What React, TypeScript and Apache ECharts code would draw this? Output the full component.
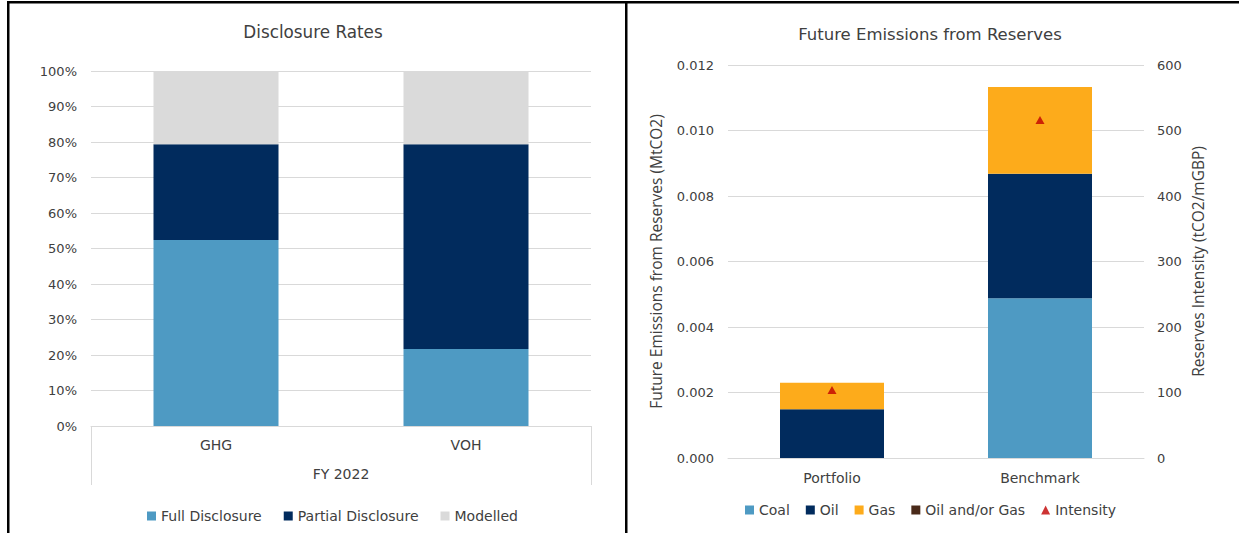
import React, { useEffect, useRef } from 'react';
import * as echarts from 'echarts';

// Left chart: Disclosure Rates
const disclosureCategories = ['GHG', 'VOH'];
const disclosureGroup = ['FY 2022'];
const fullDisclosure = [0.524, 0.217];
const partialDisclosure = [0.27, 0.577];
const modelled = [0.206, 0.206];

// Right chart: Future Emissions from Reserves
const reserveCategories = ['Portfolio', 'Benchmark'];
const coal = [0, 0.00488];
const oil = [0.00149, 0.0038];
const gas = [0.00081, 0.00265];
const oilOrGas = [0, 0];
const intensity = [104, 516];

const FONT = 'DejaVu Sans';
const NAME_FONT = 'Open Sans';
const TXT = '#404040';
const GRID = '#D9D9D9';

const C_BLUE = '#4E9AC3';
const C_NAVY = '#012B5D';
const C_GREY = '#DADADA';
const C_GAS = '#FDAB1B';
const C_BROWN = '#4A2A1A';
const C_RED = '#C00000';

export default function App() {
  const ref = useRef<HTMLDivElement>(null);
  useEffect(() => {
    if (!ref.current) return;
    const chart = echarts.init(ref.current, undefined, { renderer: 'svg' });
    const lbl = { color: TXT, fontSize: 13, fontFamily: FONT };
    const cat = { color: TXT, fontSize: 14, fontFamily: FONT };
    chart.setOption({
      animation: false,
      backgroundColor: '#fff',
      textStyle: { fontFamily: FONT, color: TXT },
      graphic: [
        { type: 'rect', shape: { x: 7, y: 1, width: 1232, height: 2.5 }, style: { fill: '#000' } },
        { type: 'rect', shape: { x: 7, y: 1, width: 2.5, height: 532 }, style: { fill: '#000' } },
        { type: 'rect', shape: { x: 625, y: 1, width: 2.5, height: 532 }, style: { fill: '#000' } },
        { type: 'text', x: 313, y: 32, style: { text: 'Disclosure Rates', fill: TXT, font: `16.8px "${FONT}"`, textAlign: 'center', textVerticalAlign: 'middle' } },
        { type: 'text', x: 930, y: 34, style: { text: 'Future Emissions from Reserves', fill: TXT, font: `16.5px "${FONT}"`, textAlign: 'center', textVerticalAlign: 'middle' } },
      ],
      grid: [
        { left: 91, right: 648, top: 71, bottom: 107 },
        { left: 728, right: 95, top: 65, bottom: 75 },
      ],
      legend: [
        {
          data: ['Full Disclosure', 'Partial Disclosure', 'Modelled'],
          left: 147, top: 509, padding: 0, icon: 'rect', itemWidth: 9, itemHeight: 9, itemGap: 22,
          textStyle: { ...cat },
        },
        {
          data: ['Coal', 'Oil', 'Gas', 'Oil and/or Gas', { name: 'Intensity', icon: 'triangle' }],
          left: 745, top: 503, padding: 0, icon: 'rect', itemWidth: 9, itemHeight: 9, itemGap: 16,
          textStyle: { ...cat },
        },
      ],
      xAxis: [
        {
          gridIndex: 0, type: 'category', data: disclosureCategories,
          axisLine: { lineStyle: { color: GRID } }, axisTick: { show: false },
          axisLabel: { ...cat, margin: 12 },
        },
        {
          gridIndex: 0, type: 'category', data: disclosureGroup, position: 'bottom',
          axisLine: { show: false },
          axisTick: { show: true, length: 59, lineStyle: { color: GRID } },
          axisLabel: { ...cat, margin: 41 },
        },
        {
          gridIndex: 1, type: 'category', data: reserveCategories,
          axisLine: { lineStyle: { color: GRID } }, axisTick: { show: false },
          axisLabel: { ...cat, margin: 13 },
        },
      ],
      yAxis: [
        {
          gridIndex: 0, type: 'value', min: 0, max: 1, interval: 0.1,
          axisLabel: { ...lbl, margin: 14, formatter: (v: number) => Math.round(v * 100) + '%' },
          splitLine: { lineStyle: { color: GRID } }, axisLine: { show: false }, axisTick: { show: false },
        },
        {
          gridIndex: 1, type: 'value', min: 0, max: 0.012, interval: 0.002,
          name: 'Future Emissions from Reserves (MtCO2)', nameLocation: 'middle', nameGap: 64, nameRotate: 90,
          nameTextStyle: { color: TXT, fontSize: 15.5, fontFamily: NAME_FONT },
          axisLabel: { ...lbl, margin: 14, formatter: (v: number) => v.toFixed(3) },
          splitLine: { lineStyle: { color: GRID } }, axisLine: { show: false }, axisTick: { show: false },
        },
        {
          gridIndex: 1, type: 'value', position: 'right', min: 0, max: 600, interval: 100,
          name: 'Reserves Intensity (tCO2/mGBP)', nameLocation: 'middle', nameGap: 46, nameRotate: 90,
          nameTextStyle: { color: TXT, fontSize: 15.5, fontFamily: NAME_FONT },
          axisLabel: { ...lbl, margin: 13 },
          splitLine: { show: false }, axisLine: { show: false }, axisTick: { show: false },
        },
      ],
      series: [
        { name: 'Full Disclosure', type: 'bar', stack: 'd', xAxisIndex: 0, yAxisIndex: 0, barWidth: '50%', data: fullDisclosure, itemStyle: { color: C_BLUE } },
        { name: 'Partial Disclosure', type: 'bar', stack: 'd', xAxisIndex: 0, yAxisIndex: 0, barWidth: '50%', data: partialDisclosure, itemStyle: { color: C_NAVY } },
        { name: 'Modelled', type: 'bar', stack: 'd', xAxisIndex: 0, yAxisIndex: 0, barWidth: '50%', data: modelled, itemStyle: { color: C_GREY } },
        { name: 'Coal', type: 'bar', stack: 'r', xAxisIndex: 2, yAxisIndex: 1, barWidth: '50%', data: coal, itemStyle: { color: C_BLUE } },
        { name: 'Oil', type: 'bar', stack: 'r', xAxisIndex: 2, yAxisIndex: 1, barWidth: '50%', data: oil, itemStyle: { color: C_NAVY } },
        { name: 'Gas', type: 'bar', stack: 'r', xAxisIndex: 2, yAxisIndex: 1, barWidth: '50%', data: gas, itemStyle: { color: C_GAS } },
        { name: 'Oil and/or Gas', type: 'bar', stack: 'r', xAxisIndex: 2, yAxisIndex: 1, barWidth: '50%', data: oilOrGas, itemStyle: { color: C_BROWN } },
        { name: 'Intensity', type: 'scatter', xAxisIndex: 2, yAxisIndex: 2, symbol: 'triangle', symbolSize: [9, 8], data: intensity, itemStyle: { color: C_RED } },
      ],
    });
    return () => chart.dispose();
  }, []);
  return <div ref={ref} style={{ position: 'absolute', left: 0, top: 0, width: 1239, height: 533 }} />;
}
